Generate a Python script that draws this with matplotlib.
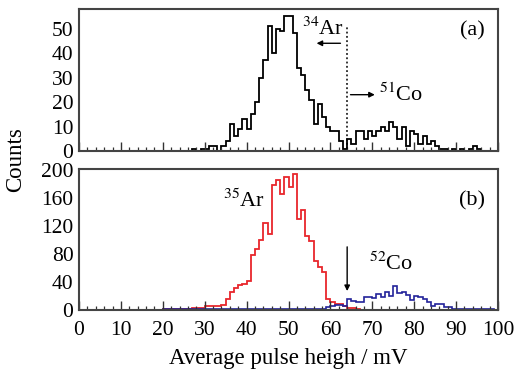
import numpy as np
import matplotlib
matplotlib.use("Agg")
import matplotlib.pyplot as plt

plt.rcParams['font.family'] = ['Liberation Serif', 'DejaVu Serif']
plt.rcParams['mathtext.fontset'] = 'stix'

# ---------------- data ----------------
# (a) counts per 1 mV bin, bins start at a_start
a_start = 26
a_counts = [0, 1, 0, 1, 1, 2, 2, 0, 2, 4,            # 26-35
            11, 6, 9, 13, 9, 15, 20, 30, 37, 51,     # 36-45
            40, 50, 49, 55, 55, 48, 34, 31, 25, 21,  # 46-55
            11, 19, 14, 10, 8, 8, 4, 1, 5, 3,        # 56-65
            8, 8, 5, 8, 6, 8, 10, 8, 12, 10,         # 66-75
            5, 10, 2, 8, 7, 3, 6, 3, 4, 2,           # 76-85
            1, 1, 0, 1, 0, 1, 0, 1, 2, 1, 0]         # 86-96

# (b) 35Ar (red) counts per 1 mV bin
r_start = 20
r_counts = [1, 1, 1, 1, 2, 2, 2, 3, 3, 3,            # 20-29
            6, 6, 6, 6, 7, 15, 25, 31, 35, 37,       # 30-39
            42, 78, 87, 100, 124, 109, 178, 185, 165, 189,  # 40-49
            176, 194, 130, 143, 105, 99, 70, 62, 54, 15,    # 50-59
            11, 9, 8, 5, 3, 3, 1, 0]                 # 60-67

# (b) 52Co (blue) counts per 1 mV bin
b_start = 20
b_counts = [1] * 33 + [2, 2, 2, 2, 2, 2,             # 20-58
            4, 6, 7, 7, 5, 16, 13, 12, 12, 19,       # 59-68
            19, 17, 23, 18, 26, 20, 34, 24, 26, 21,  # 69-78
            14, 20, 18, 15, 11, 6, 9, 8, 4, 4,       # 79-88
            2, 2, 1, 1, 1, 1, 1, 1, 1, 1, 0]         # 89-99

x_ticks = [0, 10, 20, 30, 40, 50, 60, 70, 80, 90, 100]
a_yticks = [0, 10, 20, 30, 40, 50]
b_yticks = [0, 40, 80, 120, 160, 200]
cut = 64

# ---------------- figure ----------------
W, H = 530, 376
fig = plt.figure(figsize=(W / 100, H / 100), dpi=100)
ax1 = fig.add_axes([79 / W, 1 - 151 / H, 419 / W, 142 / H])
ax2 = fig.add_axes([79 / W, 1 - 310 / H, 419 / W, 141 / H])

def edges(start, n):
    return np.arange(start, start + n + 1)

ax1.stairs(a_counts, edges(a_start, len(a_counts)), color='black', lw=1.3)
ax2.stairs(r_counts, edges(r_start, len(r_counts)), color='#e8262c', lw=1.3)
ax2.stairs(b_counts, edges(b_start, len(b_counts)), color='#23239a', lw=1.2)

for ax in (ax1, ax2):
    ax.set_xlim(0, 100)
    ax.set_xticks(x_ticks)
    ax.set_xticks(np.arange(0, 101, 2), minor=True)
    ax.tick_params(axis='x', which='major', direction='in', length=6.5, width=1.0,
                   color='#333333', labelsize=15.5, pad=8)
    ax.tick_params(axis='x', which='minor', direction='in', length=3.2, width=0.9,
                   color='#333333')
    ax.tick_params(axis='y', length=0, labelsize=15.5, pad=4)
    for s in ax.spines.values():
        s.set_linewidth(1.5)
        s.set_color('#444444')

ax1.set_ylim(0, 58)
ax1.set_yticks(a_yticks)
ax1.tick_params(axis='x', labelbottom=False)
ax2.set_ylim(0, 201)
ax2.set_yticks(b_yticks)

arrow_kw = dict(arrowstyle='-|>', color='black', lw=1.0,
                mutation_scale=8, shrinkA=0, shrinkB=0)

# annotations (a)
ax1.plot([cut, cut], [1, 51], color='black', lw=1.1, ls=(0, (1.2, 1.6)))
ax1.annotate('', xy=(56.7, 44), xytext=(62.4, 44), arrowprops=arrow_kw)
ax1.annotate('', xy=(70.6, 23), xytext=(64.8, 23), arrowprops=arrow_kw)
ax1.text(58.3, 50, r'$^{34}$Ar', fontsize=16, ha='center', va='center')
ax1.text(71.6, 23, r'$^{51}$Co', fontsize=16, ha='left', va='center')
ax1.text(93.8, 49, '(a)', fontsize=16, ha='center', va='center')

# annotations (b)
ax2.annotate('', xy=(cut, 27), xytext=(cut, 90), arrowprops=arrow_kw)
ax2.text(39.3, 156, r'$^{35}$Ar', fontsize=16, ha='center', va='center')
ax2.text(69.3, 66, r'$^{52}$Co', fontsize=16, ha='left', va='center')
ax2.text(93.8, 156, '(b)', fontsize=16, ha='center', va='center')

ax2.set_xlabel('Average pulse heigh / mV', fontsize=16.5, labelpad=6)
fig.text(16 / W, 1 - 160 / H, 'Counts', rotation=90, fontsize=16.5,
         ha='center', va='center')

fig.savefig('out.png', dpi=100)
